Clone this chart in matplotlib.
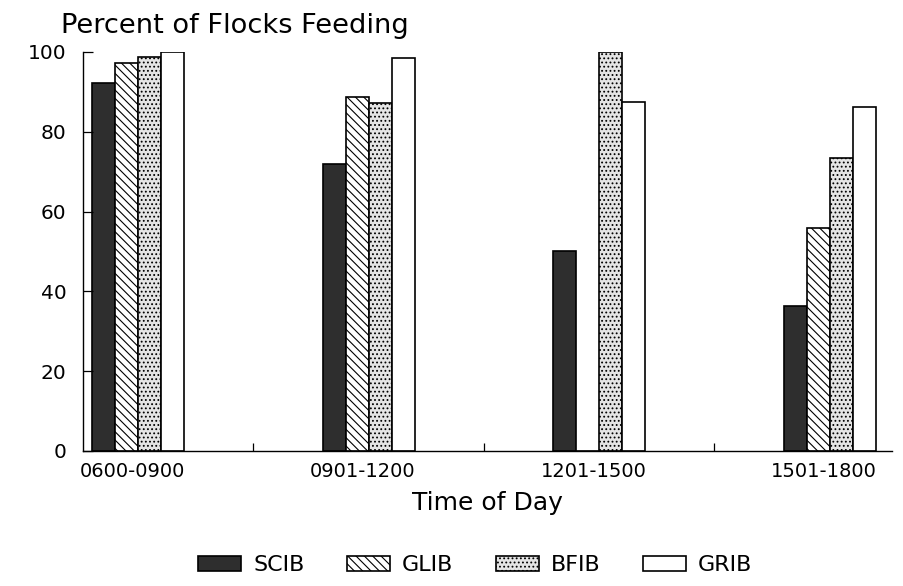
import numpy as np
import matplotlib
matplotlib.use('Agg')
import matplotlib.pyplot as plt

# values
periods = ['0600-0900', '0901-1200', '1201-1500', '1501-1800']
species = ['SCIB', 'GLIB', 'BFIB', 'GRIB']
scib = [92.2, 71.9, 50.1, 36.4]
glib = [97.3, 88.6, 0, 56.0]
bfib = [98.7, 87.3, 100.0, 73.4]
grib = [100.0, 98.6, 87.5, 86.2]

plt.rcParams['font.family'] = ['DejaVu Sans']
plt.rcParams['hatch.linewidth'] = 0.8

fig = plt.figure(figsize=(9.04, 5.86), dpi=100)
ax = fig.add_axes([0.0918, 0.2304, 0.8949, 0.6809])

x = np.arange(len(periods))
w = 0.1
styles = [dict(facecolor='#2e2e2e', hatch=None),
          dict(facecolor='white', hatch='\\\\\\\\'),
          dict(facecolor='#e4e4e4', hatch='....'),
          dict(facecolor='white', hatch=None)]
for i, (vals, name) in enumerate(zip([scib, glib, bfib, grib], species)):
    ax.bar(x + (i - 1.5) * w, vals, w, label=name, edgecolor='black',
           linewidth=1.2, **styles[i])

ax.set_xlim(-0.239, 3.27)
ax.set_ylim(0, 100)
ax.set_yticks([0, 20, 40, 60, 80, 100])
ax.tick_params(axis='y', direction='in', length=7, labelsize=14.5, width=0.9, pad=12)
ax.set_xticks(x - 0.025)
ax.set_xticklabels(periods, fontsize=14)
ax.set_xticks(x[:-1] + 0.5, minor=True)
ax.tick_params(axis='x', which='major', length=0, pad=8)
ax.tick_params(axis='x', which='minor', direction='in', length=6, width=0.9)
for s in ['top', 'right']:
    ax.spines[s].set_visible(False)
for s in ['left', 'bottom']:
    ax.spines[s].set_linewidth(1.0)

ax.set_xlabel('Time of Day', fontsize=18, labelpad=7)
fig.text(0.068, 0.944, 'Percent of Flocks Feeding', fontsize=19.6)

ax.legend(loc='center', bbox_to_anchor=(0.485, -0.286), ncol=4, frameon=False,
          fontsize=16, handlelength=1.94, handleheight=0.63, columnspacing=1.9,
          handletextpad=0.54)

fig.savefig('out.png', dpi=100)
